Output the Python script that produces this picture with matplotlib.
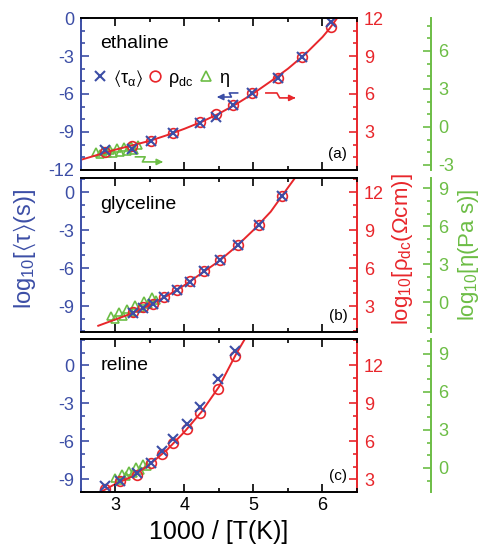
import numpy as np
import matplotlib
matplotlib.use("Agg")
import matplotlib.pyplot as plt
from matplotlib.ticker import MultipleLocator

plt.rcParams['font.family'] = ['Liberation Sans', 'DejaVu Sans']
plt.rcParams['mathtext.fontset'] = 'custom'
plt.rcParams['mathtext.rm'] = 'Liberation Sans'
plt.rcParams['mathtext.it'] = 'Liberation Sans:italic'
plt.rcParams['mathtext.fallback'] = 'stixsans'
plt.rcParams['mathtext.default'] = 'regular'
plt.rcParams['axes.unicode_minus'] = False

BLUE = '#3c4ea6'
RED = '#e8262b'
GREEN = '#6cbd45'

# --- ethaline (a) ---
eth_x = [2.85, 3.24, 3.52, 3.84, 4.23, 4.46, 4.71, 4.98, 5.35, 5.71, 6.12]
eth_tau = [-10.4, -10.35, -9.7, -9.1, -8.3, -7.8, -6.9, -5.9, -4.7, -3.1, -0.3]
eth_rho = [1.45, 1.9, 2.25, 2.9, 3.75, 4.45, 5.1, 6.1, 7.3, 8.9, 11.3]
eth_fit_x = [2.5, 2.75, 3.0, 3.25, 3.5, 3.75, 4.0, 4.25, 4.5, 4.75, 5.0, 5.25, 5.5, 5.75, 6.0, 6.1, 6.2, 6.3]
eth_fit_y = [0.8, 1.2, 1.6, 1.95, 2.3, 2.75, 3.25, 3.8, 4.45, 5.2, 6.05, 7.0, 8.0, 9.15, 10.5, 11.15, 11.9, 12.7]
eth_eta_x = [2.72, 2.77, 2.82, 2.87, 2.92, 2.97, 3.02, 3.07, 3.12, 3.17, 3.22, 3.27, 3.32]
eth_eta = [-2.0, -2.15, -1.9, -2.1, -1.8, -2.05, -1.7, -2.0, -1.6, -1.9, -1.5, -1.8, -1.4]

# --- glyceline (b) ---
gly_x = [3.26, 3.40, 3.54, 3.71, 3.89, 4.08, 4.29, 4.52, 4.78, 5.08, 5.41]
gly_tau = [-9.53, -9.13, -8.84, -8.31, -7.73, -7.08, -6.21, -5.37, -4.18, -2.6, -0.3]
gly_rho = [2.55, 2.9, 3.2, 3.7, 4.25, 4.95, 5.75, 6.6, 7.8, 9.4, 11.7]
gly_fit_x = [2.75, 3.0, 3.25, 3.5, 3.75, 4.0, 4.25, 4.5, 4.75, 5.0, 5.25, 5.5, 5.6]
gly_fit_y = [1.45, 1.95, 2.45, 3.1, 3.82, 4.65, 5.6, 6.55, 7.7, 9.0, 10.45, 12.35, 13.1]
gly_eta_x = [2.93, 2.99, 3.05, 3.11, 3.17, 3.23, 3.29, 3.35, 3.41, 3.47, 3.53, 3.59]
gly_eta = [-1.1, -1.35, -0.8, -1.05, -0.5, -0.75, -0.2, -0.45, 0.1, -0.15, 0.4, 0.15]

# --- reline (c) ---
rel_x = [2.85, 3.07, 3.31, 3.52, 3.68, 3.84, 4.04, 4.23, 4.48, 4.73]
rel_tau = [-9.55, -9.1, -8.5, -7.7, -6.76, -5.84, -4.6, -3.29, -1.05, 1.13]
rel_rho = [2.25, 2.85, 3.35, 4.3, 4.98, 5.87, 7.0, 8.24, 10.16, 12.7]
rel_fit_x = [2.75, 3.0, 3.25, 3.5, 3.75, 4.0, 4.25, 4.5, 4.75, 4.9]
rel_fit_y = [1.9, 2.65, 3.25, 4.2, 5.35, 6.75, 8.35, 10.3, 12.9, 14.3]
rel_eta_x = [3.0, 3.05, 3.1, 3.15, 3.2, 3.25, 3.3, 3.35, 3.4, 3.45]
rel_eta = [-0.75, -0.92, -0.48, -0.65, -0.22, -0.38, 0.05, -0.12, 0.32, 0.15]

panels = [
    dict(name='ethaline', tag='(a)', x=eth_x, tau=eth_tau, rho=eth_rho, fx=eth_fit_x, fy=eth_fit_y,
         ex=eth_eta_x, eta=eth_eta, ylim=(-12, 0), rlim=(0, 12), glim=(-3.4, 8.6),
         yt=[-12, -9, -6, -3, 0], rt=[3, 6, 9, 12], gt=[-3, 0, 3, 6], rect=[0.167, 0.690, 0.569, 0.277]),
    dict(name='glyceline', tag='(b)', x=gly_x, tau=gly_tau, rho=gly_rho, fx=gly_fit_x, fy=gly_fit_y,
         ex=gly_eta_x, eta=gly_eta, ylim=(-11.05, 1.1), rlim=(0.95, 13.1), glim=(-2.35, 9.8),
         yt=[-9, -6, -3, 0], rt=[3, 6, 9, 12], gt=[0, 3, 6, 9], rect=[0.167, 0.394, 0.569, 0.281]),
    dict(name='reline', tag='(c)', x=rel_x, tau=rel_tau, rho=rel_rho, fx=rel_fit_x, fy=rel_fit_y,
         ex=rel_eta_x, eta=rel_eta, ylim=(-10.0, 2.05), rlim=(2.0, 14.05), glim=(-1.9, 10.15),
         yt=[-9, -6, -3, 0], rt=[3, 6, 9, 12], gt=[0, 3, 6, 9], rect=[0.167, 0.102, 0.569, 0.279]),
]

fig = plt.figure(figsize=(4.85, 5.48), dpi=100)

for i, p in enumerate(panels):
    ax = fig.add_axes(p['rect'])
    axr = ax.twinx()
    axg = ax.twinx()

    axg.set_zorder(1)
    axr.set_zorder(2)
    ax.set_zorder(3)
    for a in (ax, axr, axg):
        a.patch.set_visible(False)

    # eta (green)
    hg, = axg.plot(p['ex'], p['eta'], ls='none', marker='^', ms=6, mfc='none', mec=GREEN, mew=1.2)
    # rho (red) + fit
    axr.plot(p['fx'], p['fy'], color=RED, lw=1.4)
    hr, = axr.plot(p['x'], p['rho'], ls='none', marker='o', ms=7, mfc='none', mec=RED, mew=1.2)
    # tau (blue)
    hb, = ax.plot(p['x'], p['tau'], ls='none', marker='x', ms=7, mec=BLUE, mew=1.5)

    ax.set_xlim(2.5, 6.5)
    ax.set_ylim(*p['ylim'])
    axr.set_ylim(*p['rlim'])
    axg.set_ylim(*p['glim'])

    ax.set_xticks([3, 4, 5, 6])
    ax.xaxis.set_minor_locator(MultipleLocator(0.5))
    ax.set_yticks(p['yt'])
    ax.yaxis.set_minor_locator(MultipleLocator(1))
    axr.set_yticks(p['rt'])
    axr.yaxis.set_minor_locator(MultipleLocator(1))
    axg.set_yticks(p['gt'])
    axg.yaxis.set_minor_locator(MultipleLocator(1))

    ax.tick_params(axis='x', which='both', direction='in', top=True, bottom=True,
                   labelbottom=(i == 2), labelsize=13, width=1.2)
    ax.tick_params(axis='x', which='major', length=6)
    ax.tick_params(axis='x', which='minor', length=3)
    ax.tick_params(axis='y', which='both', direction='in', colors=BLUE, labelsize=13, width=1.2, pad=5)
    ax.tick_params(axis='y', which='major', length=6)
    ax.tick_params(axis='y', which='minor', length=3)
    axr.tick_params(axis='y', which='both', direction='in', colors=RED, labelsize=13, width=1.2, pad=5)
    axr.tick_params(axis='y', which='major', length=6)
    axr.tick_params(axis='y', which='minor', length=3)
    axg.tick_params(axis='y', which='both', direction='in', colors=GREEN, labelsize=13, width=1.2, pad=5)
    axg.tick_params(axis='y', which='major', length=6)
    axg.tick_params(axis='y', which='minor', length=3)

    for s in ('top', 'bottom'):
        ax.spines[s].set_linewidth(1.4)
    ax.spines['left'].set_color(BLUE)
    ax.spines['left'].set_linewidth(1.4)
    ax.spines['right'].set_visible(False)
    for s in ('left', 'top', 'bottom'):
        axr.spines[s].set_visible(False)
        axg.spines[s].set_visible(False)
    axr.spines['right'].set_color(RED)
    axr.spines['right'].set_linewidth(1.4)
    axg.spines['right'].set_position(('axes', 1.268))
    axg.spines['right'].set_color(GREEN)
    axg.spines['right'].set_linewidth(1.4)

    ax.text(0.07, 0.83, p['name'], transform=ax.transAxes, fontsize=14, va='center', ha='left')
    ax.text(0.965, 0.06, p['tag'], transform=ax.transAxes, fontsize=11, va='bottom', ha='right')

    if i == 0:
        ax.legend([hb, hr, hg], [r'$\langle\tau_\alpha\rangle$', r'$\rho_{dc}$', r'$\eta$'],
                  loc='upper left', bbox_to_anchor=(0.02, 0.72), ncol=3, frameon=False,
                  fontsize=13, handlelength=0.7, handletextpad=0.35, columnspacing=0.35,
                  borderaxespad=0, markerscale=1.1)
        # arrows pointing to the matching axes
        ax.plot([4.77, 4.65, 4.68, 4.52], [-5.92, -5.92, -6.24, -6.24], color=BLUE, lw=1.2)
        ax.annotate('', xy=(4.43, -6.24), xytext=(4.55, -6.24),
                    arrowprops=dict(arrowstyle='-|>', color=BLUE, lw=1.2, mutation_scale=9))
        ax.plot([5.18, 5.34, 5.38, 5.56], [-5.92, -5.92, -6.31, -6.31], color=RED, lw=1.2)
        ax.annotate('', xy=(5.65, -6.31), xytext=(5.53, -6.31),
                    arrowprops=dict(arrowstyle='-|>', color=RED, lw=1.2, mutation_scale=9))
        ax.plot([3.29, 3.43, 3.39, 3.64], [-10.97, -10.97, -11.37, -11.37], color=GREEN, lw=1.2)
        ax.annotate('', xy=(3.73, -11.37), xytext=(3.61, -11.37),
                    arrowprops=dict(arrowstyle='-|>', color=GREEN, lw=1.2, mutation_scale=9))
    if i == 2:
        ax.set_xlabel('1000 / [T(K)]', fontsize=18, labelpad=4)

fig.text(0.052, 0.545, r'log$_{10}$[$\langle\tau\rangle$(s)]', rotation=90, color=BLUE,
         fontsize=17, ha='center', va='center')
fig.text(0.83, 0.545, r'log$_{10}$[$\rho_{dc}$($\Omega$cm)]', rotation=90, color=RED,
         fontsize=16, ha='center', va='center')
fig.text(0.965, 0.535, r'log$_{10}$[$\eta$(Pa s)]', rotation=90, color=GREEN,
         fontsize=16, ha='center', va='center')

plt.savefig('out.png', dpi=100)
